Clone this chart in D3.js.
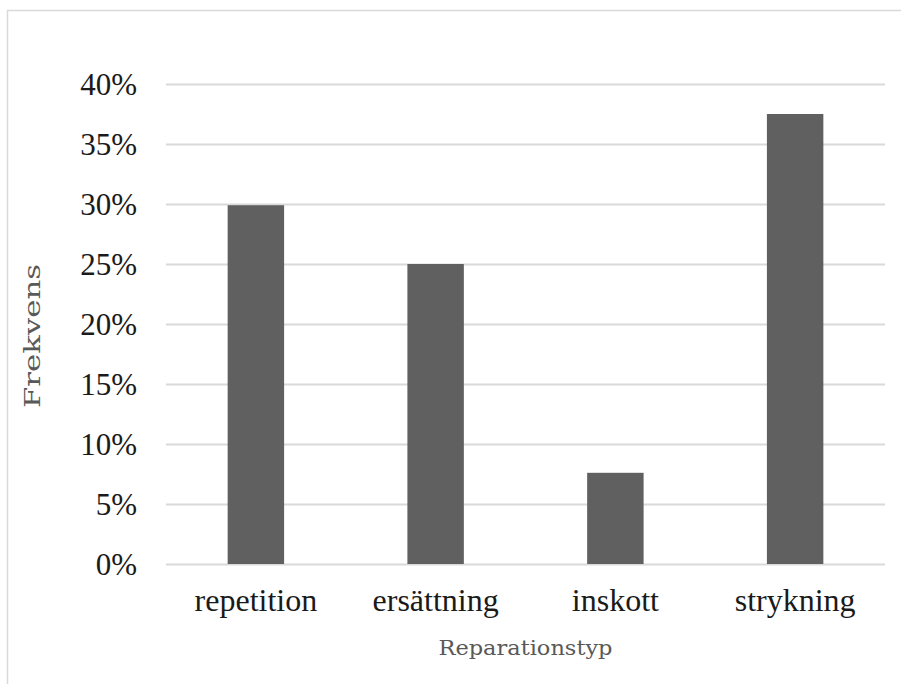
<!DOCTYPE html>
<html>
<head>
<meta charset="utf-8">
<script src="https://cdn.jsdelivr.net/npm/d3@7"></script>
<style>
  html, body { margin: 0; padding: 0; background: #fff; }
  svg { display: block; }
</style>
</head>
<body>
<svg id="chart" width="901" height="684"></svg>
<script>
// Repair types and their share of all repairs
const categories = ["repetition", "ersättning", "inskott", "strykning"];
const values = [0.299, 0.25, 0.076, 0.375];
const yTicks = [0, 0.05, 0.10, 0.15, 0.20, 0.25, 0.30, 0.35, 0.40];
const xTitle = "Reparationstyp";
const yTitle = "Frekvens";

const svg = d3.select("#chart");
const plot = { left: 166, right: 885, top: 84, bottom: 564 };

// Outer chart frame
svg.append("rect")
  .attr("x", 7.5).attr("y", 10.5)
  .attr("width", 1200).attr("height", 1200)
  .attr("fill", "#fff")
  .attr("stroke", "#d9d9d9")
  .attr("stroke-width", 1.5);

const x = d3.scaleBand()
  .domain(categories)
  .range([plot.left, plot.right])
  .paddingInner(0.686)
  .paddingOuter(0.343);

const y = d3.scaleLinear()
  .domain([0, 0.40])
  .range([plot.bottom, plot.top]);

// Horizontal gridlines and percentage labels
const yAxis = d3.axisLeft(y)
  .tickValues(yTicks)
  .tickSize(-(plot.right - plot.left))
  .tickPadding(29)
  .tickFormat(d3.format(".0%"));

const gy = svg.append("g")
  .attr("transform", `translate(${plot.left},0)`)
  .call(yAxis);
gy.select(".domain").remove();
gy.selectAll(".tick line")
  .attr("stroke", "#d9d9d9")
  .attr("stroke-width", 2);
gy.selectAll(".tick text")
  .attr("fill", "#1a1a1a")
  .attr("dy", "0.34em")
  .style("font-family", "'Liberation Serif', 'Times New Roman', serif")
  .style("font-size", "31px");

// Bars
svg.append("g").selectAll("rect")
  .data(values)
  .join("rect")
  .attr("x", (d, i) => x(categories[i]))
  .attr("y", d => y(d))
  .attr("width", x.bandwidth())
  .attr("height", d => y(0) - y(d))
  .attr("fill", "#606060");

// Category labels
const xAxis = d3.axisBottom(x).tickSize(0).tickPadding(24);
const gx = svg.append("g")
  .attr("transform", `translate(0,${plot.bottom})`)
  .call(xAxis);
gx.select(".domain").remove();
gx.selectAll(".tick text")
  .attr("fill", "#1a1a1a")
  .style("font-family", "'Liberation Serif', 'Times New Roman', serif")
  .style("font-size", "32px");

// Axis titles
svg.append("text")
  .attr("x", (plot.left + plot.right) / 2)
  .attr("y", 655)
  .attr("text-anchor", "middle")
  .attr("fill", "#595959")
  .attr("textLength", 174)
  .attr("lengthAdjust", "spacingAndGlyphs")
  .style("font-family", "'DejaVu Serif', serif")
  .style("font-size", "21px")
  .text(xTitle);

svg.append("text")
  .attr("transform", `translate(40,336) rotate(-90)`)
  .attr("text-anchor", "middle")
  .attr("fill", "#595959")
  .attr("textLength", 144)
  .attr("lengthAdjust", "spacingAndGlyphs")
  .style("font-family", "'DejaVu Serif', serif")
  .style("font-size", "23px")
  .text(yTitle);
</script>
</body>
</html>
